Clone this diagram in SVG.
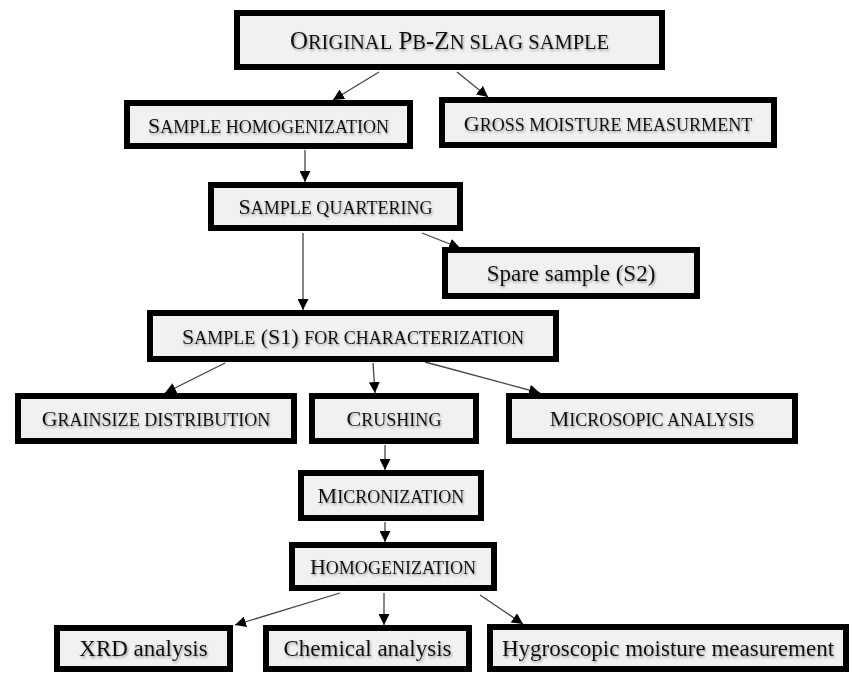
<svg xmlns="http://www.w3.org/2000/svg" width="852" height="673" viewBox="0 0 852 673">
<style>
.box{fill:#f1f1f1;stroke:#000;stroke-width:6}
.t{font-family:"Liberation Serif","Times New Roman",serif;font-size:22px;fill:#111;text-anchor:middle;filter:url(#sh)}
.big{font-size:25px}
.s{font-size:0.82em}
.r{font-size:23px}
.c{stroke:#444;stroke-width:1.3;fill:none;marker-end:url(#ah)}
</style>
<defs>
<filter id="sh" x="-5%" y="-30%" width="110%" height="160%">
<feDropShadow dx="1" dy="1.6" stdDeviation="1" flood-color="#666" flood-opacity="0.65"/>
</filter>
<marker id="ah" markerUnits="userSpaceOnUse" markerWidth="11" markerHeight="11" viewBox="0 0 10 10" refX="10" refY="5" orient="auto">
<path d="M0,0 L10,5 L0,10 z" fill="#000"/>
</marker>
</defs>
<g id="connectors">
<line class="c" x1="379" y1="72" x2="333" y2="100"/>
<line class="c" x1="457" y1="72" x2="488" y2="97"/>
<line class="c" x1="305" y1="150" x2="305" y2="182"/>
<line class="c" x1="422" y1="233" x2="460" y2="248"/>
<line class="c" x1="303" y1="233" x2="303" y2="310"/>
<line class="c" x1="225" y1="363" x2="165" y2="393"/>
<line class="c" x1="373" y1="363" x2="375" y2="393"/>
<line class="c" x1="425" y1="362" x2="540" y2="393"/>
<line class="c" x1="385" y1="445" x2="385" y2="470"/>
<line class="c" x1="385" y1="522" x2="385" y2="542"/>
<line class="c" x1="340" y1="593" x2="235" y2="625"/>
<line class="c" x1="384" y1="593" x2="384" y2="625"/>
<line class="c" x1="480" y1="595" x2="523" y2="624"/>
</g>
<g id="n-original">
<rect class="box" x="237" y="13" width="425" height="54"/>
<text class="t big" x="449.5" y="49">O<tspan class="s">RIGINAL</tspan> P<tspan class="s">B</tspan>-Z<tspan class="s">N SLAG SAMPLE</tspan></text>
</g>
<g id="n-homog1">
<rect class="box" x="127" y="103" width="283" height="43"/>
<text class="t" x="268.5" y="133">S<tspan class="s">AMPLE HOMOGENIZATION</tspan></text>
</g>
<g id="n-gross">
<rect class="box" x="442" y="100" width="332" height="45"/>
<text class="t" x="608" y="131">G<tspan class="s">ROSS MOISTURE MEASURMENT</tspan></text>
</g>
<g id="n-quarter">
<rect class="box" x="211" y="185" width="249" height="43"/>
<text class="t" x="335.5" y="214">S<tspan class="s">AMPLE QUARTERING</tspan></text>
</g>
<g id="n-spare">
<rect class="box" x="445" y="250" width="252" height="46"/>
<text class="t r" x="571" y="281">Spare sample (S2)</text>
</g>
<g id="n-s1">
<rect class="box" x="150" y="313" width="406" height="46"/>
<text class="t" x="353" y="344">S<tspan class="s">AMPLE</tspan> (S1) <tspan class="s">FOR CHARACTERIZATION</tspan></text>
</g>
<g id="n-grain">
<rect class="box" x="18" y="396" width="276" height="45"/>
<text class="t" x="156" y="426">G<tspan class="s">RAINSIZE DISTRIBUTION</tspan></text>
</g>
<g id="n-crush">
<rect class="box" x="312" y="396" width="164" height="45"/>
<text class="t" x="394" y="426">C<tspan class="s">RUSHING</tspan></text>
</g>
<g id="n-micro">
<rect class="box" x="509" y="396" width="286" height="45"/>
<text class="t" x="652" y="426">M<tspan class="s">ICROSOPIC ANALYSIS</tspan></text>
</g>
<g id="n-micron">
<rect class="box" x="301" y="473" width="180" height="45"/>
<text class="t" x="391" y="503">M<tspan class="s">ICRONIZATION</tspan></text>
</g>
<g id="n-homog2">
<rect class="box" x="292" y="545" width="202" height="43"/>
<text class="t" x="393" y="574">H<tspan class="s">OMOGENIZATION</tspan></text>
</g>
<g id="n-xrd">
<rect class="box" x="57" y="628" width="173" height="41"/>
<text class="t r" x="143.5" y="656">XRD analysis</text>
</g>
<g id="n-chem">
<rect class="box" x="266" y="628" width="203" height="41"/>
<text class="t r" x="367.5" y="656">Chemical analysis</text>
</g>
<g id="n-hygro">
<rect class="box" x="490" y="627" width="356" height="42"/>
<text class="t r" x="668" y="656">Hygroscopic moisture measurement</text>
</g>
</svg>
